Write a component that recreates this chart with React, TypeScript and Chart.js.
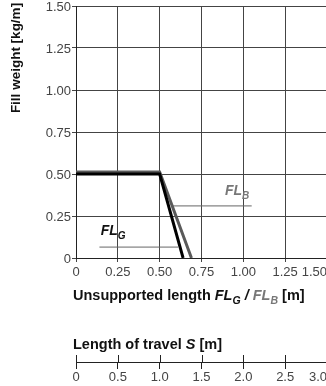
import React, { useEffect, useRef } from "react";
import { Chart, registerables } from "chart.js";

Chart.register(...registerables);

// FL_G (black) curve
const lengthsG = [0, 0.5, 0.64];
const weightsG = [0.5, 0.5, 0];
// FL_B (gray) curve
const lengthsB = [0, 0.5, 0.69];
const weightsB = [0.512, 0.512, 0];
// leader lines for labels
const leaderGx = [0.14, 0.61];
const leaderGy = [0.065, 0.065];
const leaderBx = [0.58, 1.05];
const leaderBy = [0.31, 0.31];
// label anchors
const labelG = { x: 0.148, y: 0.137 };
const labelB = { x: 0.89, y: 0.375 };
// axis ranges / ticks
const fillMax = 1.5;
const fillStep = 0.25;
const travelMax = 3.0;
const travelStep = 0.5;

const FONT = '"Liberation Sans", Arial, Helvetica, sans-serif';

const toPts = (xs: number[], ys: number[]) => xs.map((x, i) => ({ x, y: ys[i] }));

type Run = { t: string; f: string; c: string; dy?: number };
function drawRuns(ctx: CanvasRenderingContext2D, x: number, y: number, runs: Run[]) {
  let cx = x;
  ctx.textBaseline = "alphabetic";
  ctx.textAlign = "left";
  for (const r of runs) {
    ctx.font = r.f;
    ctx.fillStyle = r.c;
    ctx.fillText(r.t, cx, y + (r.dy || 0));
    cx += ctx.measureText(r.t).width;
  }
}

const textPlugin = {
  id: "textPlugin",
  afterDraw(chart: any) {
    const ctx: CanvasRenderingContext2D = chart.ctx;
    const xs = chart.scales.x;
    const ys = chart.scales.y;
    const x2 = chart.scales.x2;
    ctx.save();
    // upward tick marks on travel axis
    ctx.strokeStyle = "#222";
    ctx.lineWidth = 1;
    for (const t of x2.ticks) {
      const px = Math.round(x2.getPixelForValue(t.value)) + 0.5;
      ctx.beginPath();
      ctx.moveTo(px, x2.top - 7);
      ctx.lineTo(px, x2.top);
      ctx.stroke();
    }
    // Y title
    ctx.save();
    ctx.translate(16, 58);
    ctx.rotate(-Math.PI / 2);
    ctx.font = `bold 13.5px ${FONT}`;
    ctx.fillStyle = "#111";
    ctx.textAlign = "center";
    ctx.textBaseline = "middle";
    ctx.fillText("Fill weight [kg/m]", 0, 0);
    ctx.restore();

    const B = `bold 14.5px ${FONT}`;
    const BI = `italic bold 14.5px ${FONT}`;
    const SUB = `italic bold 10.5px ${FONT}`;
    const gray = "#777";
    // X title
    drawRuns(ctx, xs.left - 3, 300, [
      { t: "Unsupported length ", f: B, c: "#111" },
      { t: "FL", f: BI, c: "#111" },
      { t: "G", f: SUB, c: "#111", dy: 4 },
      { t: " / ", f: BI, c: "#111" },
      { t: "FL", f: BI, c: gray },
      { t: "B", f: SUB, c: gray, dy: 4 },
      { t: " [m]", f: B, c: "#111" },
    ]);
    // travel axis title
    drawRuns(ctx, x2.left - 3, x2.top - 13, [
      { t: "Length of travel ", f: B, c: "#111" },
      { t: "S", f: BI, c: "#111" },
      { t: " [m]", f: B, c: "#111" },
    ]);
    // FL_B label
    drawRuns(ctx, xs.getPixelForValue(labelB.x), ys.getPixelForValue(labelB.y), [
      { t: "FL", f: `italic bold 14px ${FONT}`, c: gray },
      { t: "B", f: `italic bold 10px ${FONT}`, c: gray, dy: 4 },
    ]);
    // FL_G label
    drawRuns(ctx, xs.getPixelForValue(labelG.x), ys.getPixelForValue(labelG.y), [
      { t: "FL", f: `italic bold 14px ${FONT}`, c: "#111" },
      { t: "G", f: `italic bold 10px ${FONT}`, c: "#111", dy: 4 },
    ]);
    ctx.restore();
  },
};

export default function App() {
  const ref = useRef<HTMLCanvasElement>(null);
  useEffect(() => {
    document.body.style.margin = "0";
    document.body.style.overflow = "hidden";
    // the last label on each horizontal axis sits inside the plot edge
    const fmtX = (v: any) => {
      const n = Number(v);
      if (n === 0) return "0";
      const s = n.toFixed(2);
      return n === fillMax ? s + "       " : s;
    };
    const fmtY = (v: any) => (Number(v) === 0 ? "0" : Number(v).toFixed(2));
    const fmtT = (v: any) => {
      const n = Number(v);
      if (n === 0) return "0";
      const s = n.toFixed(1);
      return n === travelMax ? s + "     " : s;
    };
    const tickFont = { family: FONT, size: 13 };
    const chart = new Chart(ref.current as HTMLCanvasElement, {
      type: "line",
      data: {
        datasets: [
          { data: toPts(lengthsG, weightsG), borderColor: "#000", borderWidth: 3, pointRadius: 0, fill: false, tension: 0 },
          { data: toPts(lengthsB, weightsB), borderColor: "#5a5a5a", borderWidth: 3, pointRadius: 0, fill: false, tension: 0 },
          { data: toPts(leaderGx, leaderGy), borderColor: "#666", borderWidth: 1, pointRadius: 0, fill: false },
          { data: toPts(leaderBx, leaderBy), borderColor: "#666", borderWidth: 1, pointRadius: 0, fill: false },
        ],
      },
      options: {
        responsive: false,
        animation: false,
        devicePixelRatio: 1,
        layout: { padding: { top: 6, left: 0, right: 0, bottom: 0 } },
        plugins: { legend: { display: false }, tooltip: { enabled: false } },
        scales: {
          x: {
            type: "linear",
            position: "bottom",
            min: 0,
            max: fillMax,
            ticks: { stepSize: fillStep, callback: fmtX, color: "#444", font: tickFont, padding: 3, maxRotation: 0, autoSkip: false },
            grid: { color: "#444", lineWidth: 1, tickLength: 4, drawTicks: true },
            border: { color: "#222", width: 1 },
            afterFit: (s: any) => {
              s.height = 104;
              s.paddingLeft = 0;
              s.paddingRight = 0;
            },
          },
          x2: {
            type: "linear",
            position: "bottom",
            min: 0,
            max: travelMax,
            ticks: { stepSize: travelStep, callback: fmtT, color: "#444", font: tickFont, padding: 1, maxRotation: 0, autoSkip: false },
            grid: { drawOnChartArea: false, color: "#222", tickLength: 7 },
            border: { color: "#222", width: 1 },
            afterFit: (s: any) => {
              s.height = 24;
              s.paddingLeft = 0;
              s.paddingRight = 0;
            },
          },
          y: {
            type: "linear",
            min: 0,
            max: fillMax,
            ticks: { stepSize: fillStep, callback: fmtY, color: "#444", font: tickFont, padding: 1, labelOffset: 1 },
            grid: { color: "#444", lineWidth: 1, tickLength: 4 },
            border: { color: "#222", width: 1 },
            afterFit: (s: any) => {
              s.width = 76;
              s.paddingTop = 0;
              s.paddingBottom = 0;
            },
          },
        },
      },
      plugins: [textPlugin],
    } as any);
    return () => chart.destroy();
  }, []);
  return (
    <div style={{ position: "absolute", left: 0, top: 0, width: 327, height: 386 }}>
      <canvas ref={ref} width={327} height={386} style={{ display: "block" }} />
    </div>
  );
}
